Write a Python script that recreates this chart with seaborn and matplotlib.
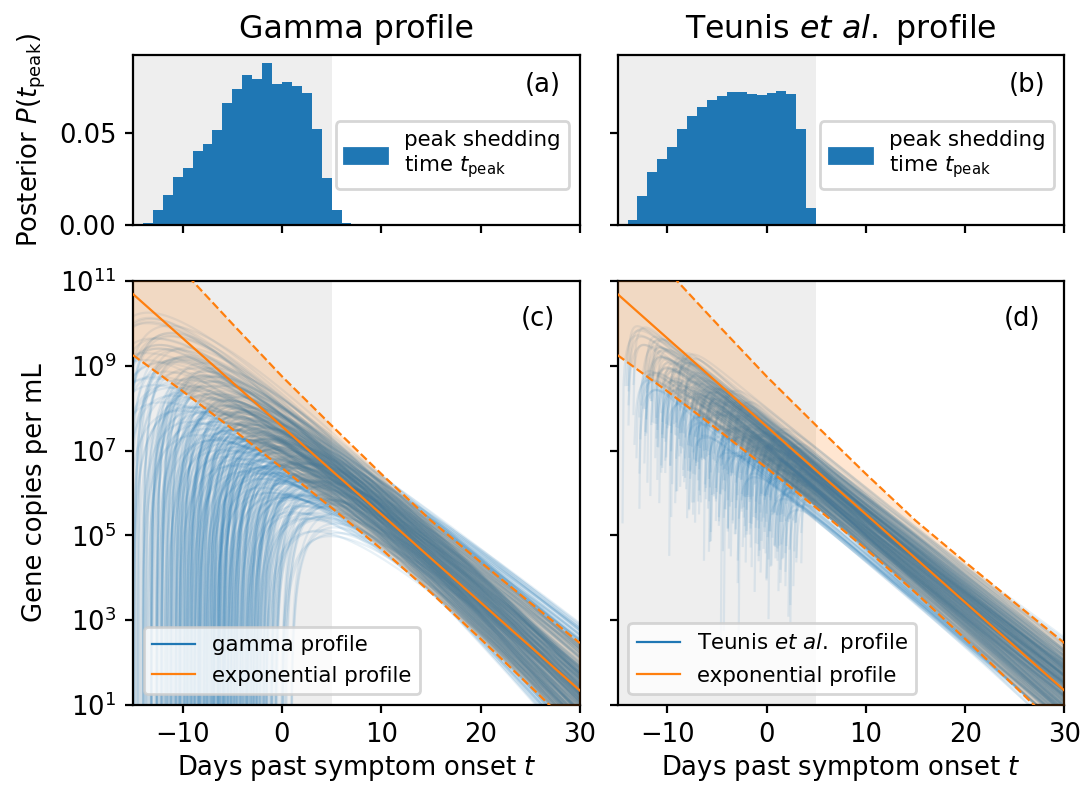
import numpy as np
import pandas as pd
import seaborn as sns
import matplotlib.pyplot as plt
from matplotlib.patches import Patch
from matplotlib.lines import Line2D
from matplotlib.ticker import NullLocator

# %% data
# (a) posterior of peak time, gamma profile: 1-day bins
hist_a_left = [-14, -13, -12, -11, -10, -9, -8, -7, -6, -5, -4, -3, -2, -1, 0, 1, 2, 3, 4, 5, 6]
hist_a_vals = [0.0011, 0.0079, 0.0161, 0.0262, 0.0310, 0.0403, 0.0441, 0.0518, 0.0661, 0.0738,
               0.0815, 0.0793, 0.0881, 0.0767, 0.0777, 0.0755, 0.0720, 0.0522, 0.0253, 0.0082, 0.0007]
# (b) posterior of peak time, Teunis et al. profile
hist_b_left = [-14, -13, -12, -11, -10, -9, -8, -7, -6, -5, -4, -3, -2, -1, 0, 1, 2, 3, 4]
hist_b_vals = [0.0024, 0.0158, 0.0289, 0.0355, 0.0421, 0.0520, 0.0592, 0.0640, 0.0678, 0.0702,
               0.0724, 0.0724, 0.0715, 0.0708, 0.0719, 0.0728, 0.0713, 0.0520, 0.0090]

# exponential profile: median and band, log10 copies/mL
band_t = [-15, -10, -5, 0, 5, 10, 15, 20, 25, 30]
band_mid = [10.69, 9.65, 8.61, 7.57, 6.53, 5.50, 4.46, 3.42, 2.38, 1.34]
band_hi = [12.54, 11.25, 9.99, 8.75, 7.59, 6.45, 5.35, 4.37, 3.41, 2.46]
band_lo = [9.25, 8.40, 7.51, 6.59, 5.65, 4.68, 3.65, 2.56, 1.44, 0.30]

# posterior draws, gamma profile: peak times (+ offset of log10 value at t=20 per draw)
gamma_tpeak = [-13.4, -12.4, -11.3, -10.5, -9.6, -8.8, -8.2, -7.7, -7.2, -6.8, -6.3, -5.9, -5.5,
               -5.2, -4.8, -4.4, -4.1, -3.9, -3.5, -3.2, -2.8, -2.5, -2.1, -1.9, -1.6, -1.4, -1.1,
               -0.8, -0.5, -0.2, 0.1, 0.4, 0.8, 1.2, 1.5, 1.8, 2.1, 2.5, 2.8, 3.3, 3.7, 4.4, 5.3]
gamma_jit = [0.12, -0.25, 0.31, -0.08, 0.19, -0.33, 0.05, 0.27, -0.15, 0.36, -0.21, 0.02, 0.24,
             -0.38, 0.14, -0.06, 0.29, -0.27, 0.09, -0.12, 0.33, -0.19, 0.01, 0.22, -0.35, 0.17,
             -0.03, 0.26, -0.24, 0.11, -0.16, 0.35, -0.09, 0.07, -0.29, 0.21, -0.02, 0.30, -0.18,
             0.04, -0.31, 0.16, -0.11]
# shape variants: theta, log10 value at t=20, shift of peak
gamma_theta = [1.45, 1.55, 1.65, 1.80, 2.00, 1.50, 1.70, 1.90, 1.60]
gamma_a20 = [2.82, 3.42, 3.72, 4.12, 4.32, 3.05, 3.02, 3.52, 3.75]
gamma_shift = [0.00, 0.23, -0.17, 0.41, -0.31, 0.12, -0.44, 0.33, -0.08]

# posterior draws, Teunis et al. profile
teunis_tpeak = [-12.6, -11.4, -10.8, -10.3, -9.7, -9.2, -8.9, -8.3, -7.8, -7.5, -7.1, -6.9, -6.4,
                -6.1, -5.8, -5.5, -5.2, -4.9, -4.5, -4.2, -3.8, -3.4, -3.1, -2.9, -2.6, -2.2,
                -1.8, -1.5, -1.2, -0.9, -0.6, -0.3, 0.2, 0.5, 0.8, 1.1, 1.4, 1.7, 2.1, 2.4, 2.8,
                3.2, 3.6, 4.3]
teunis_jit = [0.18, -0.27, 0.06, 0.33, -0.14, 0.24, -0.36, 0.11, -0.05, 0.29, -0.22, 0.15, -0.31,
              0.03, 0.26, -0.17, 0.38, -0.09, 0.20, -0.28, 0.08, -0.13, 0.34, -0.24, 0.13, -0.02,
              0.27, -0.34, 0.10, -0.19, 0.31, -0.07, 0.22, -0.30, 0.05, 0.17, -0.26, 0.35, -0.11,
              0.01, -0.21, 0.25, -0.04, 0.14]
teunis_rjit = [0.004, -0.008, 0.011, -0.003, 0.007, -0.010, 0.002, 0.009, -0.006, 0.012, -0.001,
               0.005, -0.011, 0.008, -0.004, 0.010, -0.007, 0.001, 0.006, -0.009, 0.003, -0.012,
               0.009, -0.002, 0.007, -0.005, 0.011, -0.008, 0.000, 0.004, -0.010, 0.006, -0.003,
               0.012, -0.006, 0.002, -0.009, 0.008, -0.001, 0.005, -0.011, 0.010, -0.004, 0.003]
# variants: decay (decades/day), log10 value at t=20, rise time, shift of peak
teunis_rate = [0.190, 0.200, 0.182, 0.205, 0.188, 0.178, 0.186, 0.208]
teunis_a20 = [3.32, 2.82, 3.72, 3.12, 3.42, 3.92, 3.57, 2.72]
teunis_tau = [0.8, 0.6, 1.0, 0.7, 1.2, 0.9, 0.5, 1.5]
teunis_shift = [0.00, 0.21, -0.17, 0.37, -0.29, 0.09, -0.41, 0.30]

LN10 = np.log(10)


def gamma_curve(tp, theta, a20, k=4):
    xp = (k - 1) * theta
    t0 = tp - xp
    x = np.concatenate([np.geomspace(1e-5, 0.3, 40), np.arange(0.35, 30.1 - t0, 0.1)])
    t = t0 + x
    f = (k - 1) * np.log10(x) - x / (theta * LN10)
    x20 = 20 - t0
    f20 = (k - 1) * np.log10(x20) - x20 / (theta * LN10)
    keep = t > -15.5
    return t[keep], 10 ** (a20 + f - f20)[keep]


t_grid = np.arange(-15.0, 30.05, 0.1)


def teunis_curve(tp, rate, a20, tau, m=1.5):
    theta = 1 / (rate * LN10)
    xp = tau * np.log(1 + m * theta / tau)
    t0 = tp - xp
    t = t_grid[t_grid > t0]
    x = t - t0
    logv = a20 - rate * (t - 20) + m * np.log10(1 - np.exp(-x / tau))
    return t, 10 ** logv


rows = []
n = 0
for tp, jit in zip(gamma_tpeak, gamma_jit):
    for th, a, dt in zip(gamma_theta, gamma_a20, gamma_shift):
        t, v = gamma_curve(tp + dt, th, a + jit)
        rows.append(pd.DataFrame({"t": t, "v": v, "curve": n}))
        n += 1
gamma_df = pd.concat(rows, ignore_index=True)

rows = []
n = 0
for tp, jit, rj in zip(teunis_tpeak, teunis_jit, teunis_rjit):
    for r, a, tau, dt in zip(teunis_rate, teunis_a20, teunis_tau, teunis_shift):
        t, v = teunis_curve(tp + dt, r + rj, a + jit, tau)
        rows.append(pd.DataFrame({"t": t, "v": v, "curve": n}))
        n += 1
teunis_df = pd.concat(rows, ignore_index=True)

# %% figure
plt.rcParams.update({"font.size": 9.3, "axes.titlesize": 11.4, "axes.labelsize": 9.3,
                     "xtick.labelsize": 9.3, "ytick.labelsize": 9.3, "legend.fontsize": 7.7,
                     "lines.linewidth": 0.8, "xtick.major.size": 3, "ytick.major.size": 3,
                     "xtick.major.pad": 3, "ytick.major.pad": 3})

fig = plt.figure(figsize=(5.42, 3.925), dpi=200)
gs = fig.add_gridspec(2, 2, height_ratios=[169.5, 424], left=0.1227, right=0.982,
                      top=0.9299, bottom=0.1019, wspace=0.0843, hspace=0.19)
ax_a = fig.add_subplot(gs[0, 0])
ax_b = fig.add_subplot(gs[0, 1], sharex=ax_a, sharey=ax_a)
ax_c = fig.add_subplot(gs[1, 0], sharex=ax_a)
ax_d = fig.add_subplot(gs[1, 1], sharex=ax_a, sharey=ax_c)

blue, orange = "#1f77b4", "#ff7f0e"
hist_label = "peak shedding\ntime $t_\\mathrm{peak}$"

for ax, left, vals, tag in [(ax_a, hist_a_left, hist_a_vals, "(a)"),
                            (ax_b, hist_b_left, hist_b_vals, "(b)")]:
    ax.axvspan(-15, 5, color="#eeeeee", lw=0, zorder=0)
    edges = list(left) + [left[-1] + 1]
    centers = [l + 0.5 for l in left]
    sns.histplot(x=centers, weights=vals, bins=edges, ax=ax, color=blue, alpha=1,
                 linewidth=0, edgecolor=None, zorder=2)
    ax.legend(handles=[Patch(color=blue, label=hist_label)], loc="center right",
              bbox_to_anchor=(1, 0.41))
    ax.text(0.957, 0.9, tag, transform=ax.transAxes, ha="right", va="top")
    ax.set_ylabel("")
    ax.tick_params(labelbottom=False)

ax_a.set_ylim(0, max(hist_a_vals) * 1.05)
ax_a.set_yticks([0, 0.05])
ax_a.set_yticklabels(["0.00", "0.05"])
ax_a.set_ylabel("Posterior $P(t_\\mathrm{peak})$")
ax_b.tick_params(labelleft=False)
ax_a.set_title("Gamma profile")
ax_b.set_title("Teunis $\\it{et\\ al.}$ profile")

for ax, df, name, tag in [(ax_c, gamma_df, "gamma profile", "(c)"),
                          (ax_d, teunis_df, "Teunis $\\it{et\\ al.}$ profile", "(d)")]:
    ax.set_yscale("log")
    ax.axvspan(-15, 5, color="#eeeeee", lw=0, zorder=0)
    sns.lineplot(data=df, x="t", y="v", units="curve", estimator=None, color=blue,
                 alpha=0.1, lw=0.8, ax=ax, legend=False, zorder=1)
    ax.fill_between(band_t, 10 ** np.array(band_lo), 10 ** np.array(band_hi),
                    color=orange, alpha=0.19, lw=0, zorder=3)
    ax.plot(band_t, 10 ** np.array(band_mid), color=orange, lw=0.8, zorder=4)
    ax.plot(band_t, 10 ** np.array(band_hi), color=orange, lw=0.8, ls="--", zorder=4)
    ax.plot(band_t, 10 ** np.array(band_lo), color=orange, lw=0.8, ls="--", zorder=4)
    ax.legend(handles=[Line2D([], [], color=blue, lw=0.8, label=name),
                       Line2D([], [], color=orange, lw=0.8, label="exponential profile")],
              loc="lower left")
    ax.text(0.945, 0.94, tag, transform=ax.transAxes, ha="right", va="top")
    ax.set_xlabel("Days past symptom onset $t$", labelpad=2)
    ax.set_ylabel("")

ax_c.set_ylim(1e1, 1e11)
ax_c.set_yticks([1e1, 1e3, 1e5, 1e7, 1e9, 1e11])
ax_c.yaxis.set_minor_locator(NullLocator())
ax_c.set_ylabel("Gene copies per mL")
ax_d.tick_params(labelleft=False)
ax_a.set_xlim(-15, 30)
ax_a.set_xticks([-10, 0, 10, 20, 30])
fig.align_ylabels([ax_a, ax_c])

fig.savefig("out.png", dpi=200)
